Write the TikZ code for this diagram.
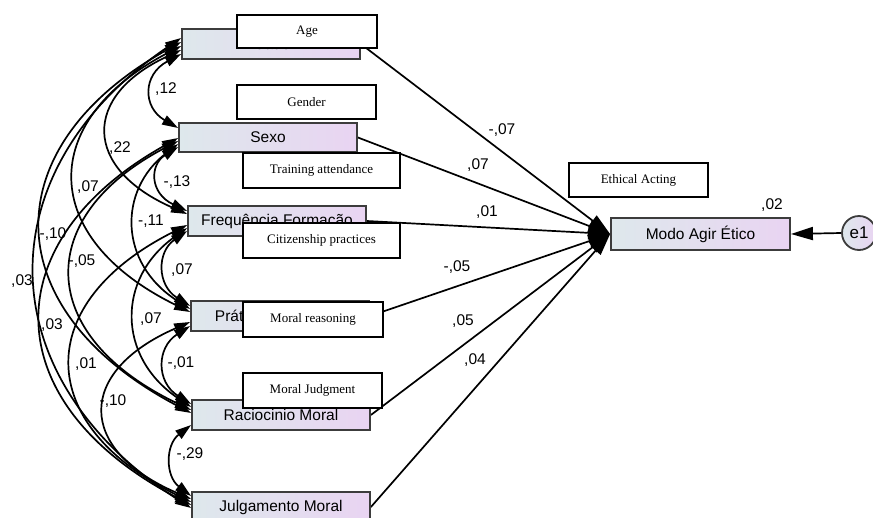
\documentclass[tikz,border=0pt]{standalone}
\usepackage{fontspec}
\setmainfont{Liberation Serif}
\newfontfamily\arialf{Liberation Sans}
\usetikzlibrary{arrows.meta,calc}
\pgfdeclarelayer{bg}
\pgfsetlayers{bg,main}
\definecolor{boxL}{RGB}{222,232,236}
\definecolor{boxR}{RGB}{233,212,242}
\definecolor{boxE}{RGB}{60,60,60}
\tikzset{
 var/.style={draw=boxE, line width=1.8pt, left color=boxL, right color=boxR, minimum width=178pt, minimum height=30pt, inner sep=0pt, font=\arialf\fontsize{15.5}{18}\selectfont},
 en/.style={draw=black, line width=1.8pt, fill=white, inner sep=0pt, font=\fontsize{13}{15}\selectfont},
 coef/.style={font=\arialf\fontsize{15.5}{18}\selectfont, inner sep=0pt},
 corr/.style={line width=1.7pt, {Triangle[length=16pt,width=10pt]}-{Triangle[length=16pt,width=10pt]}},
 reg/.style={line width=1.7pt, -{Triangle[length=22pt,width=13pt]}},
}
\begin{document}
\begin{tikzpicture}[x=1pt,y=-1pt]
\useasboundingbox (0,0) rectangle (873,517);
% variable boxes
\node[var] (idade) at (271,44) {Idade};
\node[var, minimum height=29pt] (sexo) at (268,137.5) {Sexo};
\node[var] (freq) at (277,221) {Frequência Formação};
\node[var] (prat) at (280,316) {Práticas Cidadania};
\node[var] (racio) at (281,415) {Raciocinio Moral};
\node[var] (julg) at (281,507) {Julgamento Moral};
\node[var, minimum width=179pt, minimum height=32pt] (modo) at (700.5,234) {Modo Agir Ético};
\node[circle, draw=boxE, line width=1.8pt, left color=boxL, right color=boxR, minimum size=34pt, inner sep=0pt, font=\arialf\fontsize{17}{18}\selectfont] (e1) at (859,233) {e1};
% English overlay boxes
\node[en, minimum width=140pt, minimum height=33pt] (age) at (307,31.5) {Age};
\node[en, minimum width=139pt, minimum height=34pt] (gender) at (306.5,102) {Gender};
\node[en, minimum width=157pt, minimum height=35pt] (training) at (321.5,170.5) {Training attendance};
\node[en, minimum width=157pt, minimum height=35pt] (citizen) at (321.5,240.5) {Citizenship practices};
\node[en, minimum width=140pt, minimum height=35pt] (mreas) at (313,319.5) {Moral reasoning};
\node[en, minimum width=139pt, minimum height=35pt] (mjudg) at (312.5,390.5) {Moral Judgment};
\node[en, minimum width=139pt, minimum height=34pt] (ethical) at (638.5,180) {Ethical Acting};
\begin{pgfonlayer}{bg}
\fill[white] (0,0) rectangle (873,517);
% coefficient labels
\node[coef] (r1) at (502,130) {-,07};
\node[coef] (r2) at (478,165) {,07};
\node[coef] (r3) at (487,212) {,01};
\node[coef] (r4) at (457,267) {-,05};
\node[coef] (r5) at (463,321) {,05};
\node[coef] (r6) at (475,360) {,04};
\node[coef] (r7) at (772,205) {,02};
\node[coef] (k1) at (166,89) {,12};
\node[coef] (k2) at (120,148) {,22};
\node[coef] (k3) at (88,187) {,07};
\node[coef] (k4) at (53,234) {-,10};
\node[coef] (k5) at (22,281) {,03};
\node[coef] (k6) at (177,182) {-,13};
\node[coef] (k7) at (151,221) {-,11};
\node[coef] (k8) at (82,261) {-,05};
\node[coef] (k9) at (52,325) {,03};
\node[coef] (k10) at (182,270) {,07};
\node[coef] (k11) at (151,319) {,07};
\node[coef] (k12) at (86,364) {,01};
\node[coef] (k13) at (181,363) {-,01};
\node[coef] (k14) at (113,401) {-,10};
\node[coef] (k15) at (190,454) {-,29};
% regression paths
\draw[reg] (idade.east) -- (modo.west);
\draw[reg] (sexo.east) -- (modo.west);
\draw[reg] (freq.east) -- (modo.west);
\draw[reg] (prat.east) -- (modo.west);
\draw[reg] (racio.east) -- (modo.west);
\draw[reg] (julg.east) -- (modo.west);
\draw[reg] (e1.west) -- (modo.east);
% correlations
\draw[corr] ($(idade.west)+(0,10)$) .. controls (142.5,74.7) and (142.5,107.3) .. ($(sexo.west)+(0,-9.5)$);
\draw[corr] ($(idade.west)+(0,6)$) .. controls (82.3,95.9) and (82.3,168.1) .. ($(freq.west)+(0,-7)$);
\draw[corr] ($(idade.west)+(0,2)$) .. controls (37.8,120.5) and (37.8,237.5) .. ($(prat.west)+(0,-4)$);
\draw[corr] ($(idade.west)+(0,-2)$) .. controls (-6.3,145.9) and (-6.3,309.1) .. ($(racio.west)+(0,-2)$);
\draw[corr] ($(idade.west)+(0,-6)$) .. controls (-14.3,169.6) and (-14.3,376.4) .. ($(julg.west)+(0,1)$);
\draw[corr] ($(sexo.west)+(0,9.5)$) .. controls (149.5,164.9) and (149.5,193.1) .. ($(freq.west)+(0,-10)$);
\draw[corr] ($(sexo.west)+(0,6.5)$) .. controls (118.3,190.2) and (118.3,262.8) .. ($(prat.west)+(0,-7)$);
\draw[corr] ($(sexo.west)+(0,3.5)$) .. controls (34.2,216.3) and (34.2,334.7) .. ($(racio.west)+(0,-5)$);
\draw[corr] ($(sexo.west)+(0,0.5)$) .. controls (-5.8,240.8) and (-5.8,402.2) .. ($(julg.west)+(0,-2)$);
\draw[corr] ($(freq.west)+(0,10)$) .. controls (156.8,252) and (156.8,285) .. ($(prat.west)+(0,-10)$);
\draw[corr] ($(freq.west)+(0,7)$) .. controls (116.7,278.1) and (116.7,356.9) .. ($(racio.west)+(0,-8)$);
\draw[corr] ($(freq.west)+(0,4)$) .. controls (32.7,302.6) and (32.7,424.4) .. ($(julg.west)+(0,-5)$);
\draw[corr] ($(prat.west)+(0,10)$) .. controls (156.2,347.8) and (156.2,382.2) .. ($(racio.west)+(0,-11)$);
\draw[corr] ($(prat.west)+(0,6)$) .. controls (76.2,371.6) and (76.2,449.4) .. ($(julg.west)+(0,-8)$);
\draw[corr] ($(racio.west)+(0,10)$) .. controls (165.3,444.9) and (165.3,476.1) .. ($(julg.west)+(0,-11)$);
\end{pgfonlayer}
\end{tikzpicture}
\end{document}
